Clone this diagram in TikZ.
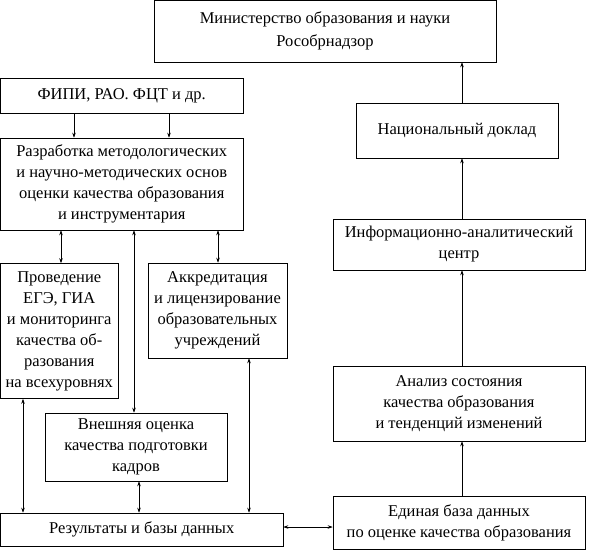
\documentclass[tikz,border=0pt]{standalone}
\usepackage{fontspec}
\setmainfont{Liberation Serif}
\usetikzlibrary{arrows.meta}

\begin{document}
\begin{tikzpicture}[x=1pt,y=-1pt,
  caixa/.style={draw, line width=0.6pt, align=center, inner sep=0pt,
    font=\fontsize{16.5}{21}\selectfont},
  seta/.style={-{Stealth[length=5pt,width=3.5pt]}, line width=0.6pt},
  seta2/.style={{Stealth[length=5pt,width=3.5pt]}-{Stealth[length=5pt,width=3.5pt]}, line width=0.6pt}]
\useasboundingbox (0,0) rectangle (605,550);
% Caixas
\node[caixa, minimum width=342, minimum height=61.5, font=\fontsize{16.5}{23}\selectfont] (min) at (325,31.25) {Министерство образования и науки\\Рособрнадзор};
\node[caixa, minimum width=242.5, minimum height=35] (fipi) at (121.75,95.5) {ФИПИ, РАО. ФЦТ и др.};
\node[caixa, minimum width=242.5, minimum height=92] (razr) at (121.75,184) {Разработка методологических\\и научно-методических основ\\оценки качества образования\\и инструментария};
\node[caixa, minimum width=117.5, minimum height=135] (prov) at (59.25,331) {Проведение\\ЕГЭ, ГИА\\и мониторинга\\качества об-\\разования\\на всехуровнях};
\node[caixa, minimum width=139, minimum height=95] (akkr) at (217.5,310.5) {Аккредитация\\и лицензирование\\образовательных\\учреждений};
\node[caixa, minimum width=182, minimum height=68] (vnesh) at (136,447) {Внешняя оценка\\качества подготовки\\кадров};
\node[caixa, minimum width=282.5, minimum height=33] (rez) at (141.75,529.5) {Результаты и базы данных};
\node[caixa, minimum width=252, minimum height=53] (edin) at (459,522.5) {Единая база данных\\по оценке качества образования};
\node[caixa, minimum width=252, minimum height=75] (anal) at (459,403.5) {Анализ состояния\\качества образования\\и тенденций изменений};
\node[caixa, minimum width=252, minimum height=51] (info) at (459,244.5) {Информационно-аналитический\\центр};
\node[caixa, minimum width=202, minimum height=55] (nac) at (457,130.5) {Национальный доклад};
% Setas da esquerda
\draw[seta] (fipi.south -| 74,0) -- (razr.north -| 74,0);
\draw[seta] (fipi.south -| 169,0) -- (razr.north -| 169,0);
\draw[seta2] (razr.south -| 61,0) -- (prov.north -| 61,0);
\draw[seta2] (razr.south -| 134,0) -- (vnesh.north -| 134,0);
\draw[seta2] (razr.south -| 218,0) -- (akkr.north -| 218,0);
\draw[seta2] (prov.south -| 23,0) -- (rez.north -| 23,0);
\draw[seta2] (vnesh.south -| 139,0) -- (rez.north -| 139,0);
\draw[seta2] (akkr.south -| 249,0) -- (rez.north -| 249,0);
\draw[seta2] (rez.east |- 0,527) -- (edin.west |- 0,527);
% Setas da direita
\draw[seta] (edin.north -| 462,0) -- (anal.south -| 462,0);
\draw[seta] (anal.north -| 462,0) -- (info.south -| 462,0);
\draw[seta] (info.north -| 462,0) -- (nac.south -| 462,0);
\draw[seta] (nac.north -| 462,0) -- (min.south -| 462,0);
\end{tikzpicture}
\end{document}
